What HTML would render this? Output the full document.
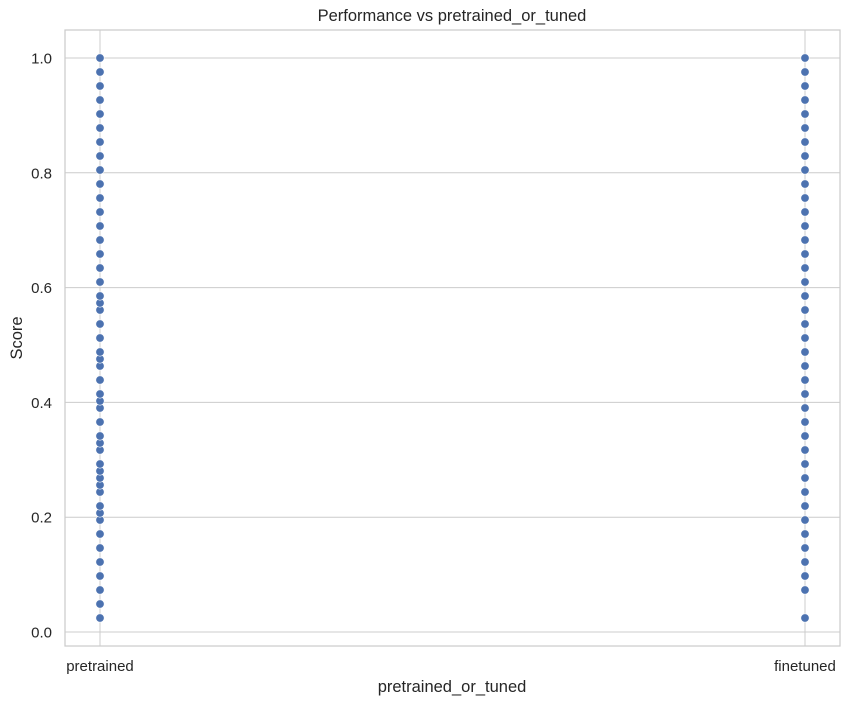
<!DOCTYPE html>
<html><head><meta charset="utf-8"><style>
body{margin:0;background:#fff;}
svg{display:block;font-family:"Liberation Sans",sans-serif;}
</style></head><body>
<svg id="chart" width="850" height="704">
<text x="452" y="21" text-anchor="middle" font-size="16.5" fill="#262626">Performance vs pretrained_or_tuned</text>
<g id="grid"></g>
<g id="pts"></g>
<rect x="65" y="30" width="775" height="616" fill="none" stroke="#cccccc" stroke-width="1.25"/>
<text x="452" y="692" text-anchor="middle" font-size="16.5" fill="#262626">pretrained_or_tuned</text>
<text transform="translate(22,338) rotate(-90)" text-anchor="middle" font-size="16.5" fill="#262626">Score</text>
</svg>
<script>
const categories=["pretrained","finetuned"];
const yTicks=[0.0,0.2,0.4,0.6,0.8,1.0];
const pretrainedK=[1,2,3,4,5,6,7,8,8.5,9,10,10.5,11,11.5,12,13,13.5,14,15,16,16.5,17,18,19,19.5,20,21,22,23,23.5,24,25,26,27,28,29,30,31,32,33,34,35,36,37,38,39,40,41];
const finetunedK=[1,3,4,5,6,7,8,9,10,11,12,13,14,15,16,17,18,19,20,21,22,23,24,25,26,27,28,29,30,31,32,33,34,35,36,37,38,39,40,41];
const pretrainedScores=pretrainedK.map(k=>k/41);
const finetunedScores=finetunedK.map(k=>k/41);
const NS="http://www.w3.org/2000/svg";
function yS(v){return 632-v*574;}
function xS(i){return 100+i*705;}
const grid=document.getElementById('grid'),pts=document.getElementById('pts'),svg=document.getElementById('chart');
yTicks.forEach(t=>{
 const l=document.createElementNS(NS,'line');
 l.setAttribute('x1',65);l.setAttribute('x2',840);l.setAttribute('y1',yS(t));l.setAttribute('y2',yS(t));
 l.setAttribute('stroke','#cccccc');l.setAttribute('stroke-width','1');
 
 
 grid.appendChild(l);
 const tx=document.createElementNS(NS,'text');
 tx.setAttribute('x',52);tx.setAttribute('y',yS(t)+5.5);tx.setAttribute('text-anchor','end');
 tx.setAttribute('font-size','15');tx.setAttribute('fill','#262626');tx.textContent=t.toFixed(1);
 
 
 svg.appendChild(tx);
});
categories.forEach((c,i)=>{
 const l=document.createElementNS(NS,'line');
 l.setAttribute('x1',xS(i));l.setAttribute('x2',xS(i));l.setAttribute('y1',30);l.setAttribute('y2',646);
 l.setAttribute('stroke','#cccccc');l.setAttribute('stroke-width','1');
 
 
 grid.appendChild(l);
 const tx=document.createElementNS(NS,'text');
 tx.setAttribute('x',xS(i));tx.setAttribute('y',671);tx.setAttribute('text-anchor','middle');
 tx.setAttribute('font-size','15');tx.setAttribute('fill','#262626');tx.textContent=c;
 
 
 svg.appendChild(tx);
});
[pretrainedScores,finetunedScores].forEach((arr,i)=>{
 arr.forEach(v=>{
  const c=document.createElementNS(NS,'circle');
  c.setAttribute('cx',xS(i));c.setAttribute('cy',yS(v));c.setAttribute('r',4.2);
  c.setAttribute('fill','#4c72b0');c.setAttribute('stroke','#ffffff');c.setAttribute('stroke-width','0.6');
  
  
  pts.appendChild(c);
 });
});
</script>
</body></html>
